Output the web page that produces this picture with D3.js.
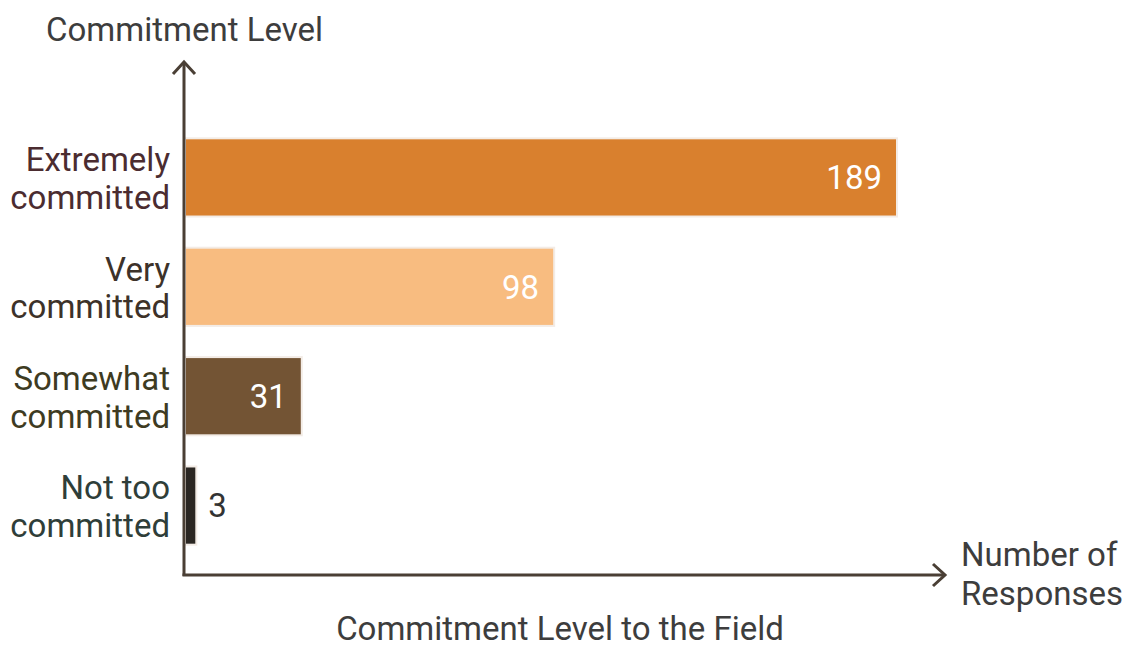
<!DOCTYPE html>
<html>
<head>
<meta charset="utf-8">
<script src="https://cdn.jsdelivr.net/npm/d3@7"></script>
<style>
  html, body { margin: 0; padding: 0; background: #ffffff; }
  svg { display: block; font-family: Roboto, "Noto Sans", sans-serif; }
</style>
</head>
<body>
<svg id="chart" width="1130" height="647"></svg>
<script>
// Survey responses by commitment level
const categories = ["Extremely committed", "Very committed", "Somewhat committed", "Not too committed"];
const labelLines = [["Extremely", "committed"], ["Very", "committed"], ["Somewhat", "committed"], ["Not too", "committed"]];
const responses = [189, 98, 31, 3];
const barColors = ["#d9802e", "#f8bc80", "#735434", "#2b2723"];
const labelColors = ["#4b2c30", "#3d3229", "#3e3b22", "#2f3e39"];

const svg = d3.select("#chart");
const axisColor = "#4a3f35";
const fs = 33;

const x0 = 184, yAxisTop = 62, xAxisY = 575, xAxisEnd = 945;

const x = d3.scaleLinear().domain([0, 189]).range([x0 + 1, 897]);
const y = d3.scaleBand().domain(categories).range([123, 560]).paddingInner(0.285).paddingOuter(0.14);

// bars
svg.append("g").selectAll("rect").data(categories).join("rect")
  .attr("x", x(0))
  .attr("y", d => y(d))
  .attr("width", (d, i) => x(responses[i]) - x(0))
  .attr("height", y.bandwidth())
  .attr("fill", (d, i) => barColors[i])
  .attr("stroke", "#f3ece6")
  .attr("stroke-width", 2);

// value labels
svg.append("g").selectAll("text").data(categories).join("text")
  .attr("x", (d, i) => responses[i] > 10 ? x(responses[i]) - 15 : x(responses[i]) + 12)
  .attr("y", d => y(d) + y.bandwidth() / 2)
  .attr("dy", "0.36em")
  .attr("text-anchor", (d, i) => responses[i] > 10 ? "end" : "start")
  .attr("font-size", fs)
  .attr("fill", (d, i) => responses[i] > 10 ? "#ffffff" : "#333333")
  .text((d, i) => responses[i]);

// category labels
const lab = svg.append("g").selectAll("text").data(categories).join("text")
  .attr("x", 170)
  .attr("y", d => y(d) + y.bandwidth() / 2)
  .attr("text-anchor", "end")
  .attr("font-size", fs)
  .attr("fill", (d, i) => labelColors[i]);
lab.each(function(d, i) {
  const t = d3.select(this);
  labelLines[i].forEach((line, k) => {
    t.append("tspan").attr("x", 170).attr("dy", k === 0 ? "-0.19em" : "1.15em").text(line);
  });
});

// axes with arrowheads
svg.append("line").attr("x1", x0).attr("y1", xAxisY + 1).attr("x2", x0).attr("y2", yAxisTop)
  .attr("stroke", axisColor).attr("stroke-width", 3);
svg.append("line").attr("x1", x0 - 1.5).attr("y1", xAxisY).attr("x2", xAxisEnd).attr("y2", xAxisY)
  .attr("stroke", axisColor).attr("stroke-width", 3);
svg.append("path").attr("d", `M${x0 - 11},${yAxisTop + 12} L${x0},${yAxisTop} L${x0 + 11},${yAxisTop + 12}`)
  .attr("fill", "none").attr("stroke", axisColor).attr("stroke-width", 3);
svg.append("path").attr("d", `M${xAxisEnd - 12},${xAxisY - 11} L${xAxisEnd},${xAxisY} L${xAxisEnd - 12},${xAxisY + 11}`)
  .attr("fill", "none").attr("stroke", axisColor).attr("stroke-width", 3);

// titles
svg.append("text").attr("x", 46).attr("y", 41).attr("font-size", fs).attr("fill", "#3d3d3d")
  .text("Commitment Level");
const xt = svg.append("text").attr("font-size", fs).attr("fill", "#3d3d3d");
xt.append("tspan").attr("x", 961).attr("y", 566).text("Number of");
xt.append("tspan").attr("x", 961).attr("y", 605).text("Responses");
svg.append("text").attr("x", 560).attr("y", 640).attr("text-anchor", "middle").attr("font-size", fs).attr("fill", "#3d3d3d")
  .text("Commitment Level to the Field");
</script>
</body>
</html>
